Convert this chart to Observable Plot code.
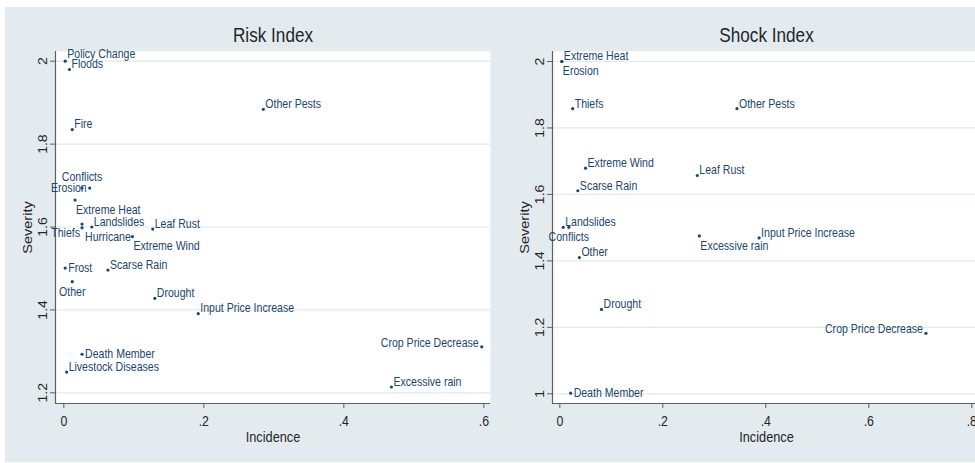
<!DOCTYPE html>
<html>
<head>
<meta charset="utf-8">
<script src="https://cdn.jsdelivr.net/npm/d3@7"></script>
<script src="https://cdn.jsdelivr.net/npm/@observablehq/plot@0.6"></script>
<style>
  html, body { margin: 0; padding: 0; background: #ffffff; overflow: hidden; }
  #wrap { position: relative; width: 975px; height: 463px; overflow: hidden; background: #ffffff; }
  #bg { position: absolute; left: 5px; top: 7px; width: 975px; height: 455px; background: #e4ebee; }
  #left { position: absolute; left: 5px; top: 7px; width: 490px; height: 455px; }
  #right { position: absolute; left: 495px; top: 7px; width: 500px; height: 455px; }
  #left svg, #right svg { max-width: none !important; display: block; }
</style>
</head>
<body>
<div id="wrap"><div id="bg"></div><div id="left"></div><div id="right"></div></div>
<script>
// ---------- Risk Index (left panel) ----------
const riskEvents = ["Policy Change", "Floods", "Other Pests", "Fire", "Conflicts", "Erosion",
  "Extreme Heat", "Landslides", "Thiefs", "Hurricane", "Leaf Rust", "Extreme Wind", "Frost",
  "Scarse Rain", "Other", "Drought", "Input Price Increase", "Death Member",
  "Livestock Diseases", "Crop Price Decrease", "Excessive rain"];
const riskIncidence = [0.002, 0.008, 0.285, 0.012, 0.026, 0.037,
  0.016, 0.040, 0.026, 0.026, 0.127, 0.098, 0.002,
  0.063, 0.012, 0.130, 0.192, 0.026,
  0.004, 0.597, 0.468];
const riskSeverity = [2.000, 1.980, 1.884, 1.835, 1.694, 1.694,
  1.665, 1.600, 1.598, 1.607, 1.595, 1.577, 1.501,
  1.496, 1.468, 1.428, 1.391, 1.293,
  1.250, 1.311, 1.214];
// marker-label clock positions (as in Stata's mlabvposition)
const riskLabelPos = ["1", "2", "2", "2", "12", "9",
  "5", "2", "8", "4", "2", "5", "3",
  "2", "6", "2", "2", "3",
  "2", "10", "2"];
const riskXTicks = [0, 0.2, 0.4, 0.6];
const riskXTickLabels = ["0", ".2", ".4", ".6"];
const riskYTicks = [1.2, 1.4, 1.6, 1.8, 2];
const riskYTickLabels = ["1.2", "1.4", "1.6", "1.8", "2"];
const riskXDomain = [-0.0119, 0.6095];
const riskYDomain = [1.1742, 2.0234];

// ---------- Shock Index (right panel) ----------
const shockEvents = ["Extreme Heat", "Erosion", "Thiefs", "Other Pests", "Extreme Wind",
  "Leaf Rust", "Scarse Rain", "Landslides", "Conflicts", "Other", "Excessive rain",
  "Input Price Increase", "Drought", "Crop Price Decrease", "Death Member"];
const shockIncidence = [0.004, 0.004, 0.025, 0.344, 0.050,
  0.267, 0.035, 0.0066, 0.0175, 0.038, 0.271,
  0.387, 0.081, 0.711, 0.021];
const shockSeverity = [2.000, 2.000, 1.858, 1.858, 1.679,
  1.657, 1.611, 1.501, 1.501, 1.410, 1.475,
  1.469, 1.254, 1.182, 1.002];
const shockLabelPos = ["2", "5", "2", "2", "2",
  "2", "2", "2", "6", "2", "5",
  "2", "2", "10", "3"];
const shockXTicks = [0, 0.2, 0.4, 0.6, 0.8];
const shockXTickLabels = ["0", ".2", ".4", ".6", ".8"];
const shockYTicks = [1, 1.2, 1.4, 1.6, 1.8, 2];
const shockYTickLabels = ["1", "1.2", "1.4", "1.6", "1.8", "2"];
const shockXDomain = [-0.0142, 0.8169];
const shockYDomain = [0.9708, 2.0301];

const titles = ["Risk Index", "Shock Index"];
const xTitle = "Incidence";
const yTitle = "Severity";

// ---------- styling ----------
const NAVY = "#1a476f";
const INK = "#1f262d";
const GRID = "#e1e9ec";
const AXIS = "#5a5f63";
const FONT = "'Liberation Sans', Arial, Helvetica, sans-serif";
const CONDENSE = 0.88;

const LABEL_STYLE = {
  "1":  {textAnchor: "start",  dx: 2,  dy: -7},
  "2":  {textAnchor: "start",  dx: 2,  dy: -5},
  "3":  {textAnchor: "start",  dx: 3,  dy: 0},
  "4":  {textAnchor: "start",  dx: 3,  dy: 13},
  "5":  {textAnchor: "start",  dx: 1,  dy: 10},
  "6":  {textAnchor: "middle", dx: 0,  dy: 10},
  "8":  {textAnchor: "end",    dx: -2, dy: 5},
  "9":  {textAnchor: "end",    dx: -3, dy: 0},
  "10": {textAnchor: "end",    dx: -3, dy: -4},
  "12": {textAnchor: "middle", dx: 0,  dy: -11}
};

function condense(svg) {
  svg.querySelectorAll("text").forEach((t) => {
    const tr = t.getAttribute("transform") || "";
    t.setAttribute("transform", tr + (tr.includes("rotate") ? ` scale(1,${CONDENSE})` : ` scale(${CONDENSE},1)`));
  });
  return svg;
}

function panel(cfg) {
  const rows = cfg.events.map((name, i) => ({
    name, incidence: cfg.incidence[i], severity: cfg.severity[i], pos: cfg.pos[i]
  }));
  const xLab = new Map(cfg.xTicks.map((t, i) => [t, cfg.xTickLabels[i]]));
  const yLab = new Map(cfg.yTicks.map((t, i) => [t, cfg.yTickLabels[i]]));
  const labelMarks = Object.entries(LABEL_STYLE).map(([code, st]) =>
    Plot.text(rows.filter((d) => d.pos === code), {
      x: "incidence", y: "severity", text: "name",
      textAnchor: st.textAnchor, dx: st.dx, dy: st.dy, lineAnchor: "middle",
      fill: NAVY, fontSize: 12
    })
  );
  const svg = Plot.plot({
    width: cfg.width, height: 455,
    marginLeft: cfg.marginLeft, marginRight: cfg.marginRight,
    marginTop: 44, marginBottom: 59,
    style: {fontFamily: FONT, background: "transparent", overflow: "visible", color: INK, maxWidth: "none"},
    x: {domain: cfg.xDomain, axis: null},
    y: {domain: cfg.yDomain, axis: null},
    marks: [
      Plot.frame({fill: "white"}),
      Plot.gridY({ticks: cfg.yTicks, stroke: GRID, strokeOpacity: 1, strokeWidth: 1.2}),
      Plot.ruleX([cfg.xDomain[0]], {stroke: AXIS, strokeWidth: 1.2}),
      Plot.ruleY([cfg.yDomain[0]], {stroke: AXIS, strokeWidth: 1.2}),
      Plot.axisX({ticks: cfg.xTicks, tickFormat: (d) => xLab.get(d), tickSize: 5, tickPadding: 8,
        fontSize: 14, stroke: AXIS, fill: INK, label: null}),
      Plot.axisY({ticks: cfg.yTicks, tickFormat: (d) => yLab.get(d), tickSize: 5, tickPadding: 4,
        tickRotate: -90, fontSize: 14, stroke: AXIS, fill: INK, label: null}),
      Plot.dot(rows, {x: "incidence", y: "severity", r: 1.6, fill: NAVY, stroke: "none"}),
      ...labelMarks,
      Plot.text([cfg.title], {frameAnchor: "top", text: (d) => d, dy: -15.5, lineAnchor: "middle",
        fontSize: 19.5, fill: INK}),
      Plot.text([xTitle], {frameAnchor: "bottom", text: (d) => d, dy: 34, lineAnchor: "middle",
        fontSize: 14.5, fill: INK}),
      Plot.text([yTitle], {frameAnchor: "left", text: (d) => d, dx: cfg.yTitleDx, rotate: -90,
        lineAnchor: "middle", textAnchor: "middle", fontSize: 14.5, fill: INK})
    ]
  });
  return condense(svg);
}

document.getElementById("left").appendChild(panel({
  events: riskEvents, incidence: riskIncidence, severity: riskSeverity, pos: riskLabelPos,
  xTicks: riskXTicks, xTickLabels: riskXTickLabels, yTicks: riskYTicks, yTickLabels: riskYTickLabels,
  xDomain: riskXDomain, yDomain: riskYDomain, title: titles[0],
  width: 490, marginLeft: 50, marginRight: 5, yTitleDx: -27.5
}));

document.getElementById("right").appendChild(panel({
  events: shockEvents, incidence: shockIncidence, severity: shockSeverity, pos: shockLabelPos,
  xTicks: shockXTicks, xTickLabels: shockXTickLabels, yTicks: shockYTicks, yTickLabels: shockYTickLabels,
  xDomain: shockXDomain, yDomain: shockYDomain, title: titles[1],
  width: 500, marginLeft: 57, marginRight: 15, yTitleDx: -28
}));
</script>
</body>
</html>
